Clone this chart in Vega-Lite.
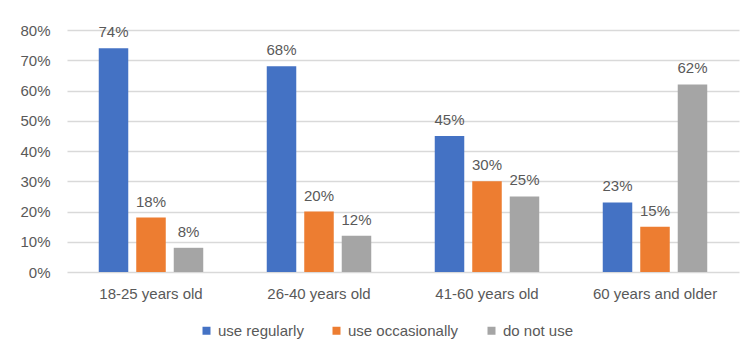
{
  "$schema": "https://vega.github.io/schema/vega-lite/v6.json",
  "width": 672,
  "height": 242,
  "autosize": {"type": "none"},
  "padding": {"left": 67, "top": 30, "right": 13, "bottom": 84},
  "background": "white",
  "config": {
    "view": {"stroke": null},
    "font": "Liberation Sans",
    "axis": {"labelColor": "#595959", "labelFontSize": 15, "gridColor": "#D9D9D9", "gridWidth": 1.3},
    "legend": {"labelColor": "#595959", "labelFontSize": 15}
  },
  "data": {
    "values": [
      {"age": "18-25 years old", "usage": "use regularly", "value": 0.74},
      {"age": "18-25 years old", "usage": "use occasionally", "value": 0.18},
      {"age": "18-25 years old", "usage": "do not use", "value": 0.08},
      {"age": "26-40 years old", "usage": "use regularly", "value": 0.68},
      {"age": "26-40 years old", "usage": "use occasionally", "value": 0.20},
      {"age": "26-40 years old", "usage": "do not use", "value": 0.12},
      {"age": "41-60 years old", "usage": "use regularly", "value": 0.45},
      {"age": "41-60 years old", "usage": "use occasionally", "value": 0.30},
      {"age": "41-60 years old", "usage": "do not use", "value": 0.25},
      {"age": "60 years and older", "usage": "use regularly", "value": 0.23},
      {"age": "60 years and older", "usage": "use occasionally", "value": 0.15},
      {"age": "60 years and older", "usage": "do not use", "value": 0.62}
    ]
  },
  "encoding": {
    "x": {
      "field": "age", "type": "nominal", "sort": null,
      "scale": {"paddingInner": 0.378, "paddingOuter": 0.189},
      "axis": {"title": null, "labelAngle": 0, "ticks": false, "domain": false, "labelPadding": 14}
    },
    "xOffset": {
      "field": "usage", "type": "nominal",
      "sort": ["use regularly", "use occasionally", "do not use"],
      "scale": {"paddingInner": 0.213, "paddingOuter": 0}
    },
    "y": {
      "field": "value", "type": "quantitative",
      "scale": {"domain": [0, 0.8]},
      "axis": {"title": null, "format": ".0%", "tickCount": 8, "ticks": false, "domain": false, "labelPadding": 17}
    }
  },
  "layer": [
    {
      "mark": {"type": "bar"},
      "encoding": {
        "color": {
          "field": "usage", "type": "nominal",
          "sort": ["use regularly", "use occasionally", "do not use"],
          "scale": {"domain": ["use regularly", "use occasionally", "do not use"], "range": ["#4472C4", "#ED7D31", "#A5A5A5"]},
          "legend": {"title": null, "orient": "none", "legendX": 132, "legendY": 293, "direction": "horizontal", "symbolType": "square", "symbolSize": 64, "symbolStrokeWidth": 0, "columnPadding": 25, "labelOffset": 4}
        }
      }
    },
    {
      "mark": {"type": "text", "baseline": "bottom", "dy": -8, "fontSize": 15, "color": "#595959"},
      "encoding": {
        "text": {"field": "value", "type": "quantitative", "format": ".0%"}
      }
    }
  ]
}
